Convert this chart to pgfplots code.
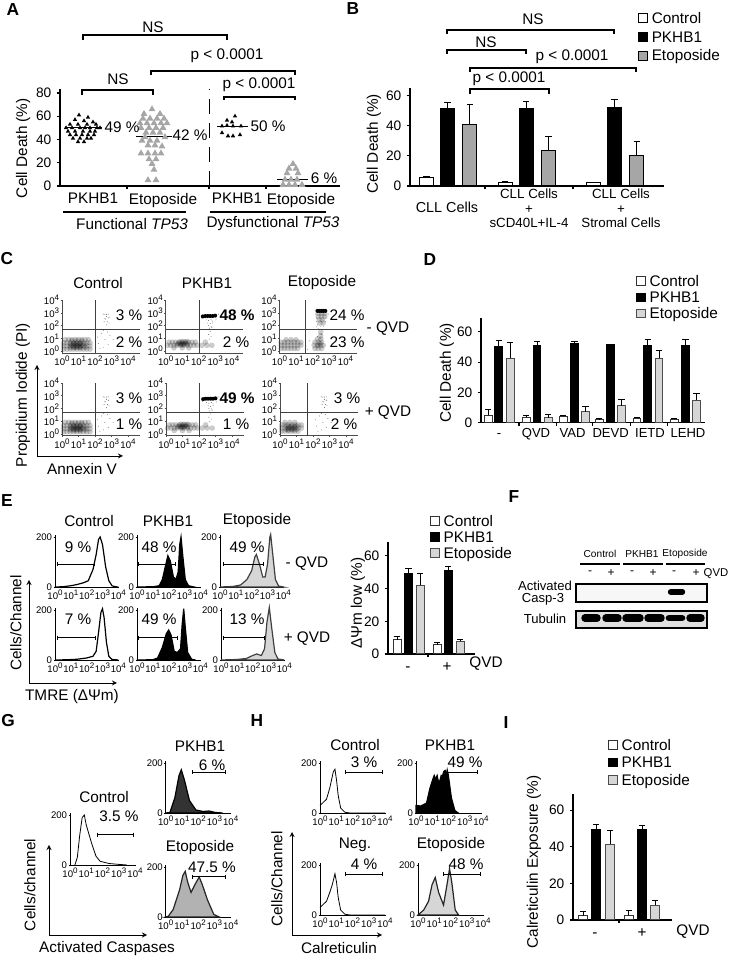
\documentclass[border=0pt]{standalone}
\usepackage{fontspec}
\setmainfont{Liberation Sans}
\usepackage{pgfplots}
\usepackage{pgfplotstable}
\pgfplotsset{compat=1.18}

% 1 image pixel = 0.75pt; y positions below are image rows
\newcommand{\fs}{\fontsize{11.5}{13}\selectfont}
\newcommand{\fy}{\fontsize{10.3}{12}\selectfont}
\newcommand{\ft}{\fontsize{7.2}{8}\selectfont}
\newcommand{\tn}[1]{10\raisebox{.42em}{\fontsize{6}{6}\selectfont #1}}

\definecolor{etoB}{HTML}{A6A6A6}
\definecolor{etoL}{HTML}{D6D6D6}

\pgfplotsset{
  /pgf/number format/assume math mode=true,
  place/.style 2 args={at={(#1*0.75pt,{(959-#2)*0.75pt})},anchor=south west},
  barax/.style={x=.75pt,ymin=0,axis x line=bottom,axis y line=left,
    axis line style={-,line width=.8pt},tick style={black,line width=.8pt},
    major tick length=2.5pt,tick align=outside,tick label style={font=\fy},
    xticklabels={},clip=false,
    extra x tick style={major tick length=0pt,xticklabel style={font=\fs}}},
  ylab/.style n args={3}{ylabel={#1},ylabel style={font=\fs},
    every axis y label/.style={at={(axis description cs:#2,#3)},rotate=90,anchor=center}},
  leg/.style n args={3}{legend cell align=left,legend style={at={(axis description cs:#1,#2)},
    anchor=north west,draw=none,fill=none,font=\fs,inner sep=0pt,
    nodes={inner sep=.5pt,text height=8pt,text depth=1.5pt},
    /tikz/row sep=#3,/tikz/column sep=2.2pt}},
  ser/.style={ybar,bar shift=0pt,line width=.75pt,
    legend image code/.code={\draw[##1,line width=.75pt] (0pt,-2.6pt) rectangle (6.6pt,4pt);},
    error bars/y dir=plus,error bars/y explicit,
    error bars/error bar style={black,line width=.75pt,solid},
    error bars/error mark options={rotate=90,black,line width=.75pt,mark size=2.4pt}},
  dot/.style={x=12.375pt,y=9.56pt,xmin=0,xmax=4.7,ymin=-0.15,ymax=4,
    axis x line=bottom,axis y line=left,axis line style={-,line width=.45pt,black!70},
    tick style={black!70,line width=.4pt},major tick length=1pt,tick align=outside,
    xtick={0,1,2,3,4},ytick={0,1,2,3,4},tick label style={font=\ft,inner sep=1pt},
    xticklabels={\tn{0},\tn{1},\tn{2},\tn{3},\tn{4}},
    yticklabels={\tn{0},\tn{1},\tn{2},\tn{3},\tn{4}},clip=false},
  hist/.style={x=11.875pt,y=.1875pt,xmin=0,xmax=4,ymin=0,ymax=208,
    axis x line=bottom,axis y line=left,axis line style={-,line width=.55pt},
    tick style={black,line width=.4pt},major tick length=1pt,tick align=outside,
    xtick={0,1,2,3,4},ytick={0,200},tick label style={font=\ft,inner sep=1pt},
    xticklabels={\tn{0},\tn{1},\tn{2},\tn{3},\tn{4}},clip=false},
  cloud/.style={only marks,mark=*,mark size=2.1pt,mark options={draw opacity=0,fill=black,fill opacity=.2}},
  dark/.style={only marks,mark=*,mark size=1.5pt,mark options={draw opacity=0,fill=black}},
  speck/.style={only marks,mark=*,mark size=.35pt,mark options={draw opacity=0,fill=black!60}},
  tri/.style={only marks,mark=triangle*,mark size=1.9pt,mark options={draw opacity=0,fill=black}},
  trig/.style={only marks,mark=triangle*,mark size=3pt,mark options={draw opacity=0,fill=etoB}},
  gateline/.style={black!75,line width=.5pt},
  range/.style={black,line width=.75pt,mark=|,mark size=1.5pt,mark options={solid,black,line width=.6pt}},
  curve/.style={black,line width=.9pt},
  blot/.style={x=.75pt,y=.75pt,xmin=576,xmax=707,ymin=0,axis lines=box,ticks=none,
    axis line style={line width=1pt},clip=true}
}

% panel C, dot plot density patches, decades on both axes
\pgfplotstableread[row sep=\\]{x y\\
0.1 0.15\\0.3 0.15\\0.5 0.15\\0.7 0.15\\0.9 0.15\\1.1 0.15\\1.3 0.15\\1.5 0.15\\1.7 0.15\\
0.1 0.4\\0.3 0.4\\0.5 0.4\\0.7 0.4\\0.9 0.4\\1.1 0.4\\1.3 0.4\\1.5 0.4\\1.7 0.4\\
0.1 0.65\\0.3 0.65\\0.5 0.65\\0.7 0.65\\0.9 0.65\\1.1 0.65\\1.3 0.65\\1.5 0.65\\1.7 0.65\\
0.2 0.9\\0.4 0.9\\0.6 0.9\\0.8 0.9\\1.0 0.9\\1.2 0.9\\1.4 0.9\\1.6 0.9\\
0.5 0.3\\0.8 0.3\\1.1 0.3\\1.4 0.3\\0.5 0.55\\0.8 0.55\\1.1 0.55\\1.4 0.55\\0.6 0.8\\0.9 0.8\\1.2 0.8\\
0.6 0.45\\0.8 0.45\\1.0 0.45\\1.2 0.45\\0.7 0.6\\0.9 0.6\\1.1 0.6\\0.7 0.3\\0.9 0.3\\1.1 0.3\\
}\cloudctrl
\pgfplotstableread[row sep=\\]{x y\\
2.5 2.9\\2.6 2.88\\2.7 2.88\\2.8 2.9\\2.7 2.7\\2.8 2.6\\2.65 2.5\\2.75 2.3\\2.85 2.2\\2.7 2.05\\2.6 2.55\\2.85 2.65\\2.55 2.3\\
2.2 0.6\\2.5 0.3\\2.6 0.9\\2.9 1.2\\2.4 1.4\\2.15 1.1\\2.8 0.5\\3.1 0.9\\2.5 1.6\\2.75 1.5\\2.3 0.2\\
}\speckctrl
\pgfplotstableread[row sep=\\]{x y\\
0.1 0.45\\0.3 0.45\\0.5 0.45\\0.7 0.45\\0.9 0.45\\1.1 0.45\\1.3 0.45\\1.5 0.45\\1.7 0.45\\1.9 0.45\\2.2 0.45\\2.5 0.45\\2.8 0.45\\
0.2 0.7\\0.4 0.7\\0.6 0.7\\0.8 0.7\\1.0 0.7\\1.2 0.7\\1.4 0.7\\1.6 0.7\\1.8 0.7\\2.4 0.7\\
0.7 0.55\\0.9 0.55\\1.1 0.55\\1.3 0.55\\0.9 0.75\\1.1 0.75\\1.3 0.75\\0.5 0.25\\1.0 0.25\\1.4 0.25\\
0.8 0.6\\1.0 0.6\\1.2 0.6\\1.0 0.5\\
}\cloudpk
\pgfplotstableread[row sep=\\]{x y\\
2.25 2.72\\2.4 2.75\\2.55 2.75\\2.7 2.75\\2.85 2.75\\3.0 2.78\\
}\dashpk
\pgfplotstableread[row sep=\\]{x y\\
2.45 2.45\\2.6 2.4\\2.75 2.45\\2.85 2.35\\2.55 2.2\\2.7 2.15\\2.85 2.2\\2.6 2.0\\2.75 1.95\\2.65 1.8\\2.8 1.85\\2.7 1.55\\2.6 1.3\\2.75 1.15\\2.65 0.95\\2.2 2.55\\3.05 2.5\\3.2 2.9\\
}\speckpk
\pgfplotstableread[row sep=\\]{x y\\
0.1 0.2\\0.3 0.2\\0.5 0.2\\0.7 0.2\\0.9 0.2\\1.1 0.2\\0.1 0.45\\0.3 0.45\\0.5 0.45\\0.7 0.45\\0.9 0.45\\1.1 0.45\\1.3 0.45\\
0.1 0.7\\0.3 0.7\\0.5 0.7\\0.7 0.7\\0.9 0.7\\1.1 0.7\\1.3 0.7\\0.4 0.9\\0.7 0.9\\1.0 0.9\\
2.15 0.2\\2.35 0.2\\2.55 0.2\\2.1 0.45\\2.3 0.45\\2.5 0.45\\2.65 0.45\\2.15 0.7\\2.35 0.7\\2.55 0.7\\2.3 0.95\\2.5 0.95\\2.35 0.45\\2.45 0.6\\
2.35 2.95\\2.55 2.95\\2.75 2.95\\2.35 2.7\\2.55 2.7\\2.75 2.7\\2.4 2.45\\2.6 2.45\\2.45 2.2\\2.65 2.2\\2.5 1.5\\2.5 1.2\\
}\cloudeto
\pgfplotstableread[row sep=\\]{x y\\
2.3 3.15\\2.42 3.15\\2.54 3.15\\2.66 3.15\\2.78 3.15\\
}\dasheto
\pgfplotstableread[row sep=\\]{x y\\
2.2 2.9\\2.25 2.6\\2.8 2.6\\2.25 2.3\\2.8 2.3\\2.3 2.05\\2.5 1.95\\2.65 1.95\\2.35 1.75\\2.5 1.7\\2.25 1.9\\2.4 1.35\\2.55 1.3\\2.3 1.15\\2.5 1.0\\1.8 0.8\\1.6 0.4\\1.7 0.15\\2.95 2.9\\
}\specketo
\pgfplotstableread[row sep=\\]{x y\\
0.1 0.2\\0.3 0.2\\0.5 0.2\\0.7 0.2\\0.9 0.2\\1.1 0.2\\0.1 0.45\\0.3 0.45\\0.5 0.45\\0.7 0.45\\0.9 0.45\\1.1 0.45\\1.3 0.45\\
0.1 0.7\\0.3 0.7\\0.5 0.7\\0.7 0.7\\0.9 0.7\\1.1 0.7\\1.3 0.7\\0.3 0.9\\0.6 0.9\\0.9 0.9\\0.4 0.35\\0.7 0.35\\1.0 0.35\\0.4 0.6\\0.7 0.6\\1.0 0.6\\
0.5 0.45\\0.8 0.45\\0.5 0.3\\0.8 0.3\\0.6 0.55\\0.9 0.55\\
}\cloudetob

\begin{document}
\begin{tikzpicture}
\useasboundingbox (0,0) rectangle (547.5pt,719.25pt);
\fs

% ---------- A
\begin{axis}[barax,place={60}{186},y=.872pt,xmin=60,xmax=340,ymax=83.4,ytick={0,20,40,60,80},
  xtick={127,209,266},extra x ticks={93,163,237,301},
  extra x tick labels={PKHB1,Etoposide,PKHB1,Etoposide},
  extra x tick style={major tick length=0pt,xticklabel style={font=\fs,yshift=-1.2pt}},
  ylab={Cell Death (\%)}{-0.132}{0.39}]
\addplot[tri] coordinates {
 (79,61)(88,59)(75,57)(84,56)(93,55)(70,53)(78,53)(87,53)(96,53)(66,50)(72,50)(80,50)(85,50)(90,50)(97,50)(100,50)
 (68,47)(75,47)(83,47)(90,47)(95,47)(70,44)(76,44)(82,44)(88,44)(94,44)(73,41)(80,41)(87,41)(91,41)(78,38)(84,38)};
\addplot[trig] coordinates {
 (152,66)(144,62)(160,62)(143,58)(150,58)(157,58)(164,58)(140,54)(147,54)(154,54)(161,54)(167,54)
 (141,50)(149,50)(156,50)(163,50)(146,46)(153,46)(160,46)(145,42)(165,42)(142,39)(150,39)(157,39)(148,35)(155,35)(162,34)
 (141,28)(148,28)(155,28)(161,28)(149,23)(156,23)(152,19)(154,14)(148,5)(156,5)};
\addplot[tri] coordinates {
 (235,60)(227,56.5)(232,55)(222,51.5)(227,52)(233,51.5)(241,51.5)(222,45.7)(240,44)(228,43)(233,43)};
\addplot[trig] coordinates {
 (293,19)(289,15)(296,15)(287,11)(298,11)(285,5.5)(291,5.5)(297,5.5)(283,1)(289,1)(295,1)(302,1)};
\addplot[black,line width=.8pt] coordinates {(65,50)(102,50)};
\addplot[black,line width=.8pt] coordinates {(136,42.3)(172,42.3)};
\addplot[black,line width=.8pt] coordinates {(217,51.4)(248,51.4)};
\addplot[black,line width=.8pt] coordinates {(277,5.4)(308,5.4)};
\addplot[black,line width=.7pt,dash pattern=on 11pt off 7pt] coordinates {(209,0)(209,83)};
\end{axis}

% ---------- B
\begin{axis}[barax,place={410}{186},y=1.1325pt,xmin=410,xmax=664,ymax=64.9,ytick={0,20,40,60},
  xtick={485,573},extra x ticks={447,529,621},
  extra x tick style={major tick length=0pt,xticklabel style={align=center,inner sep=2pt,font=\fontsize{10}{11}\selectfont}},
  extra x tick labels={{\strut\\[-2pt]\fontsize{10.8}{10}\selectfont CLL Cells},{CLL Cells\\+\\sCD40L+IL-4},{CLL Cells\\+\\Stromal Cells}},
  ylab={Cell Death (\%)}{-0.142}{0.43},leg={0.898}{1.776}{3.5pt},bar width=10.5pt]
\addplot[ser,fill=white,draw=black] coordinates {(426.3,5.5) +- (0,0.6) (505.2,2.4) +- (0,0.4) (593.5,2.2) +- (0,0.4)};
\addplot[ser,fill=black,draw=black] coordinates {(447.5,51) +- (0,4) (526,51.4) +- (0,4.6) (614.3,52.3) +- (0,5)};
\addplot[ser,fill=etoB,draw=black] coordinates {(469.7,41) +- (0,13) (548.5,23.3) +- (0,9.2) (636.7,20.4) +- (0,9.1)};
\legend{Control,PKHB1,Etoposide}
\end{axis}

% ---------- C
\begin{axis}[dot,place={62}{353}]
\addplot[cloud] table {\cloudctrl};
\addplot[speck] table {\speckctrl};
\addplot[gateline] coordinates {(2.02,-0.15)(2.02,4)};
\addplot[gateline] coordinates {(0,1.7)(4.7,1.7)};
\end{axis}
\begin{axis}[dot,place={165.7}{353}]
\addplot[cloud] table {\cloudpk};
\addplot[dark] table {\dashpk};
\addplot[speck] table {\speckpk};
\addplot[gateline] coordinates {(2.02,-0.15)(2.02,4)};
\addplot[gateline] coordinates {(0,1.7)(4.7,1.7)};
\end{axis}
\begin{axis}[dot,place={279.5}{353}]
\addplot[cloud] table {\cloudeto};
\addplot[dark] table {\dasheto};
\addplot[speck] table {\specketo};
\addplot[gateline] coordinates {(1.58,-0.15)(1.58,4)};
\addplot[gateline] coordinates {(0,1.7)(4.7,1.7)};
\end{axis}
\begin{axis}[dot,place={62}{435.7}]
\addplot[cloud] table {\cloudctrl};
\addplot[speck] table {\speckctrl};
\addplot[gateline] coordinates {(2.02,-0.15)(2.02,4)};
\addplot[gateline] coordinates {(0,1.7)(4.7,1.7)};
\end{axis}
\begin{axis}[dot,place={166}{435.7}]
\addplot[cloud] table {\cloudpk};
\addplot[dark] table {\dashpk};
\addplot[speck] table {\speckpk};
\addplot[gateline] coordinates {(2.02,-0.15)(2.02,4)};
\addplot[gateline] coordinates {(0,1.7)(4.7,1.7)};
\end{axis}
\begin{axis}[dot,place={280}{435.7}]
\addplot[cloud] table {\cloudetob};
\addplot[speck] table {\speckctrl};
\addplot[gateline] coordinates {(1.66,-0.15)(1.66,4)};
\addplot[gateline] coordinates {(0,1.7)(4.7,1.7)};
\end{axis}

% ---------- D
\begin{axis}[barax,place={481}{422.7},y=1.136pt,xmin=481,xmax=705,ymax=69.3,ytick={0,20,40,60},
  xtick={519,556.7,592.3,630.7,667.3},extra x ticks={499,536,572.5,610.7,650,688},
  extra x tick labels={-,QVD,VAD,DEVD,IETD,LEHD},
  extra x tick style={major tick length=0pt,xticklabel style={font=\fontsize{9.8}{11}\selectfont,text height=7.2pt,text depth=0pt}},
  ylab={Cell Death (\%)}{-0.152}{0.473},leg={0.692}{1.407}{1.6pt},bar width=5.8pt]
\addplot[ser,fill=white,draw=black!80] coordinates {(488.2,5) +- (0,3.4) (526.2,3.5) +- (0,1.5) (563.2,4.2) +- (0,0.6) (599.2,2.2) +- (0,0.4) (637,2.9) +- (0,0.6) (674.2,2.4) +- (0,0.4)};
\addplot[ser,fill=black,draw=black] coordinates {(498.8,50.5) +- (0,3.5) (537,51) +- (0,2.4) (574.3,52.3) +- (0,1.5) (610.2,51.4) +- (0,0.2) (647.8,51) +- (0,4) (685.5,51) +- (0,4)};
\addplot[ser,fill=etoL,draw=black!70] coordinates {(510.2,42.4) +- (0,10.3) (548.2,3.3) +- (0,2.2) (585.3,7.3) +- (0,3.7) (621.3,11.2) +- (0,4.2) (659,42.4) +- (0,5.1) (696.5,14.7) +- (0,4.4)};
\legend{Control,PKHB1,Etoposide}
\end{axis}

% ---------- E histograms
\begin{axis}[hist,place={55}{587}]
\addplot[curve] coordinates {(0,0)(0.5,1)(1,5)(1.4,10)(1.8,17)(2.1,25)(2.4,70)(2.6,130)(2.75,190)(2.85,200)(3,170)(3.2,80)(3.4,25)(3.6,5)(3.8,1)(4,0)};
\addplot[range] coordinates {(0.15,91)(2.46,91)};
\end{axis}
\begin{axis}[hist,place={137}{587}]
\addplot[curve,fill=black] coordinates {(0,0)(1,1)(1.4,5)(1.6,30)(1.8,85)(1.95,125)(2.1,105)(2.3,40)(2.46,30)(2.6,60)(2.7,170)(2.78,200)(2.9,120)(3.05,30)(3.25,5)(3.6,0)} \closedcycle;
\addplot[range] coordinates {(0.1,91)(2.42,91)};
\end{axis}
\begin{axis}[hist,place={220}{587}]
\addplot[curve,fill=etoL,draw=black!75] coordinates {(0,0)(0.8,2)(1.3,8)(1.7,30)(2.0,65)(2.2,120)(2.3,130)(2.5,90)(2.7,40)(2.85,40)(3.0,90)(3.15,200)(3.2,210)(3.35,120)(3.5,30)(3.7,4)(4,0)} \closedcycle;
\addplot[range] coordinates {(0.2,91)(2.73,91)};
\end{axis}
\begin{axis}[hist,place={55}{660}]
\addplot[curve] coordinates {(0,0)(0.8,1)(1.4,3)(2,8)(2.4,15)(2.6,35)(2.75,110)(2.9,190)(3,205)(3.1,170)(3.25,70)(3.4,15)(3.6,2)(4,0)};
\addplot[range] coordinates {(0.15,89)(2.53,89)};
\end{axis}
\begin{axis}[hist,place={137}{660}]
\addplot[curve,fill=black] coordinates {(0,0)(1,1)(1.3,8)(1.6,50)(1.85,105)(2,120)(2.15,100)(2.35,35)(2.55,30)(2.75,45)(2.85,140)(2.95,205)(3.05,130)(3.2,30)(3.45,3)(3.7,0)} \closedcycle;
\addplot[range] coordinates {(0.1,89)(2.57,89)};
\end{axis}
\begin{axis}[hist,place={221}{660}]
\addplot[curve,fill=etoL,draw=black!75] coordinates {(0,0)(1,2)(1.6,6)(2,18)(2.25,24)(2.55,18)(2.75,45)(2.9,150)(3.05,210)(3.2,130)(3.4,30)(3.6,4)(4,0)} \closedcycle;
\addplot[range] coordinates {(0.15,89)(2.75,89)};
\end{axis}

% ---------- E bars
\begin{axis}[barax,place={388}{654},y=1.226pt,xmin=388,xmax=475,ymax=68.5,ytick={0,20,40,60},
  xtick={428},extra x ticks={408,447},extra x tick labels={-,+},
  extra x tick style={major tick length=0pt,xticklabel style={font=\fs,text height=8pt,text depth=0pt,yshift=-1.3pt}},
  ylab={ΔΨm low (\%)}{-0.345}{0.455},leg={0.483}{1.245}{1.6pt},bar width=6pt]
\addplot[ser,fill=white,draw=black!80] coordinates {(397,8.8) +- (0,1.6) (437,5.7) +- (0,1.6)};
\addplot[ser,fill=black,draw=black] coordinates {(408.3,49) +- (0,3) (448,51) +- (0,2.3)};
\addplot[ser,fill=etoL,draw=black!70] coordinates {(420,42) +- (0,7) (460,7.8) +- (0,1.2)};
\legend{Control,PKHB1,Etoposide}
\end{axis}

% ---------- F blots
\begin{axis}[blot,place={576}{602},y=.75pt,ymax=18,axis background/.style={fill=black!3}]
\addplot[black,line width=4pt,line cap=round] coordinates {(670.5,10)(682.5,10)};
\end{axis}
\begin{axis}[blot,place={576}{628},ymax=17,axis background/.style={fill=black!12}]
\addplot[black,line width=5.6pt,line cap=round] coordinates {(585,10)(597,10)};
\addplot[black,line width=5.6pt,line cap=round] coordinates {(606,10)(618,10)};
\addplot[black,line width=5.6pt,line cap=round] coordinates {(626,10)(640,10)};
\addplot[black,line width=5.6pt,line cap=round] coordinates {(648,10)(661,10)};
\addplot[black,line width=5pt,line cap=round] coordinates {(669,10)(682,10)};
\addplot[black,line width=5.6pt,line cap=round] coordinates {(690,10)(701,10)};
\end{axis}

% ---------- G
\begin{axis}[hist,place={70}{865},x=12.19pt]
\addplot[curve,line width=.6pt] coordinates {(0.3,0)(0.45,30)(0.6,120)(0.75,190)(0.88,200)(1,160)(1.33,87)(1.6,35)(1.85,15)(2.4,6)(2.9,3)(3.5,0)};
\addplot[range] coordinates {(1.7,121)(3.9,121)};
\end{axis}
\begin{axis}[hist,place={165.7}{813},x=12.19pt]
\addplot[curve,fill=black!80] coordinates {(0,0)(0.26,2)(0.56,60)(0.82,150)(0.96,173)(1.16,130)(1.46,50)(1.86,12)(2.3,6)(2.66,8)(3.06,2)(3.5,0)} \closedcycle;
\addplot[range] coordinates {(1.63,163)(3.66,163)};
\end{axis}
\begin{axis}[hist,place={165.7}{917},x=12.19pt]
\addplot[curve,fill=black!30,draw=black!85] coordinates {(0,0)(0.16,3)(0.46,30)(0.86,110)(1.05,165)(1.2,183)(1.35,140)(1.56,98)(1.8,130)(2.06,160)(2.25,130)(2.56,70)(2.96,10)(3.3,0)} \closedcycle;
\addplot[range] coordinates {(1.66,160)(3.66,160)};
\end{axis}

% ---------- H
\begin{axis}[hist,place={320}{813},x=12.19pt]
\addplot[curve,line width=.6pt] coordinates {(0,30)(0.4,55)(0.6,100)(0.82,165)(0.92,175)(1.02,130)(1.12,70)(1.27,20)(1.53,3)(1.84,0)(4,0)};
\addplot[range] coordinates {(1.56,163)(3.86,163)};
\end{axis}
\begin{axis}[hist,place={416}{813},x=12.19pt]
\addplot[curve,fill=black] coordinates {(0,30)(0.3,28)(0.65,40)(0.86,100)(1.06,140)(1.12,150)(1.2,135)(1.3,150)(1.38,125)(1.47,130)(1.55,150)(1.62,145)(1.7,165)(1.78,170)(1.85,150)(1.92,172)(1.98,155)(2.18,60)(2.39,10)(2.6,0)} \closedcycle;
\addplot[range] coordinates {(1.78,163)(3.76,163)};
\end{axis}
\begin{axis}[hist,place={320}{915},x=12.19pt]
\addplot[curve,line width=.6pt] coordinates {(0,30)(0.4,55)(0.6,90)(0.75,120)(0.92,165)(1.02,130)(1.12,70)(1.27,20)(1.53,3)(1.84,0)(4,0)};
\addplot[range] coordinates {(1.56,163)(3.86,163)};
\end{axis}
\begin{axis}[hist,place={418}{915},x=12.19pt]
\addplot[curve,fill=etoL,draw=black!85] coordinates {(0,0)(0.35,20)(0.65,55)(0.86,120)(1.06,150)(1.27,90)(1.57,40)(1.78,120)(1.94,185)(2.08,130)(2.29,20)(2.5,0)} \closedcycle;
\addplot[range] coordinates {(1.57,163)(3.82,163)};
\end{axis}

% ---------- I
\begin{axis}[barax,place={573}{920},y=1.3725pt,xmin=573,xmax=672,ymax=68.9,ytick={0,20,40,60},
  xtick={619},extra x ticks={595,642},extra x tick labels={-,+},
  extra x tick style={major tick length=0pt,xticklabel style={font=\fs,text height=8pt,text depth=0pt,yshift=-1.3pt}},
  ylab={Calreticulin Exposure (\%)}{-0.394}{0.46},leg={0.354}{1.44}{2.75pt},bar width=6.5pt]
\addplot[ser,fill=white,draw=black!80] coordinates {(583,2.4) +- (0,2.3) (628.8,2.5) +- (0,2.8)};
\addplot[ser,fill=black,draw=black] coordinates {(596,49.3) +- (0,3.1) (642.2,49.3) +- (0,2.2)};
\addplot[ser,fill=etoL,draw=black!70] coordinates {(610,41.4) +- (0,7.5) (655,8) +- (0,2.6)};
\legend{Control,PKHB1,Etoposide}
\end{axis}

% ---------- text, brackets and arrows, in image pixels
\begin{scope}[yshift=719.25pt,x=.75pt,y=-.75pt,line width=.8pt,font=\fs]
\newcommand{\brk}[4]{\draw (#1,#3+#4)--(#1,#3)--(#2,#3)--(#2,#3+#4);}
\foreach \l/\x/\y in {A/13/10,B/353/9,C/7/259,D/430/260,E/7/501,F/514/497,G/8/721,H/257/721,I/506/723}
  \node[font=\fontsize{13}{13}\selectfont\bfseries] at (\x,\y) {\l};

% A
\brk{83}{227}{35}{5}\brk{151}{295}{71}{4}\brk{82}{153}{90}{5}\brk{224}{295}{97}{3}
\node at (153,27) {NS}; \node at (118,79) {NS};
\node at (227,56) {p < 0.0001}; \node at (259,85) {p < 0.0001};
\node at (122,127) {49 \%}; \node at (190,135) {42 \%}; \node at (268,126) {50 \%}; \node at (324,178) {6 \%};
\draw (63,212)--(186,212); \draw (210,212)--(326,212);
\node at (132,224) {Functional \textit{TP53}}; \node at (273,224) {Dysfunctional \textit{TP53}};

% B
\brk{447}{614}{30}{4}\brk{447}{526}{50}{4}\brk{470}{636}{68}{4}\brk{470}{549}{89}{5}
\node at (533,19) {NS}; \node at (486,42) {NS};
\node at (572,57) {p < 0.0001}; \node at (509,79) {p < 0.0001};

% C
\foreach \t/\x in {Control/98,PKHB1/207,Etoposide/322} \node at (\x,283) {\t};
\node at (129,315) {3 \%}; \node at (237,315) {\textbf{48 \%}}; \node at (347,315) {24 \%};
\node at (129,342) {2 \%}; \node at (236,342) {2 \%}; \node at (347,342) {23 \%};
\node at (129,398) {3 \%}; \node at (237,398) {\textbf{49 \%}}; \node at (347,398) {3 \%};
\node at (129,424) {1 \%}; \node at (236,424) {1 \%}; \node at (344,424) {2 \%};
\node at (388,329) {- QVD}; \node at (388,413) {+ QVD};
\draw[-stealth,line width=.7pt] (37,456)--(37,365); \draw[-stealth,line width=.7pt] (37,456)--(123,456);
\node[rotate=90] at (23,395) {Propidium Iodide (PI)}; \node at (82,469) {Annexin V};

% E
\foreach \t/\x in {Control/89,PKHB1/168,Etoposide/257} \node at (\x,521) {\t};
\node at (78,547) {9 \%}; \node at (159,547) {48 \%}; \node at (247,547) {49 \%};
\node at (78,619) {7 \%}; \node at (159,619) {49 \%}; \node at (247,619) {13 \%};
\node at (307,564) {- QVD}; \node at (307,639) {+ QVD};
\draw[-stealth,line width=.7pt] (29,683)--(29,580); \draw[-stealth,line width=.7pt] (29,683)--(117,683);
\node[rotate=90] at (16,623) {Cells/Channel}; \node at (72,697) {TMRE (ΔΨm)};
\node at (486,664) {QVD};

% F
\begin{scope}[font=\fontsize{7.6}{8}\selectfont]
\node at (600,554) {Control}; \node at (642,554) {PKHB1}; \node at (685,554) {Etoposide};
\foreach \x/\s in {590/-,611/+,632/-,653/+,674/-,696/+} \node[font=\fontsize{9}{9}\selectfont] at (\x,573) {\s};
\end{scope}
\draw (580,564)--(620,564); \draw (623,564)--(663,564); \draw (666,564)--(705,564);
\node[font=\fontsize{8.5}{9}\selectfont] at (716,574) {QVD};
\node[font=\fontsize{9.8}{9}\selectfont,inner sep=0pt] at (545,585.5) {Activated};
\node[font=\fontsize{9.8}{9}\selectfont,inner sep=0pt] at (543,599) {Casp-3};
\node[font=\fontsize{9.8}{9}\selectfont,inner sep=0pt] at (545,619) {Tubulin};

% G
\node at (104,797) {Control}; \node at (200,746) {PKHB1}; \node at (200,848) {Etoposide};
\node at (119,816) {3.5 \%}; \node at (212,765) {6 \%}; \node at (212,867) {47.5 \%};
\draw[-stealth,line width=.7pt] (49,935)--(49,845); \draw[-stealth,line width=.7pt] (49,935)--(147,935);
\node[rotate=90] at (30,885) {Cells/channel}; \node at (107,949) {Activated Caspases};

% H
\node at (355,745) {Control}; \node at (450,745) {PKHB1}; \node at (355,845) {Neg.}; \node at (451,845) {Etoposide};
\node at (364,762) {3 \%}; \node at (465,762) {49 \%}; \node at (364,864) {4 \%}; \node at (466,864) {48 \%};
\draw[-stealth,line width=.7pt] (292,935)--(292,832); \draw[-stealth,line width=.7pt] (292,935)--(382,935);
\node[rotate=90] at (277,879) {Cells/Channel}; \node at (339,948) {Calreticulin};

% I
\node at (693,932) {QVD};
\end{scope}
\end{tikzpicture}
\end{document}
